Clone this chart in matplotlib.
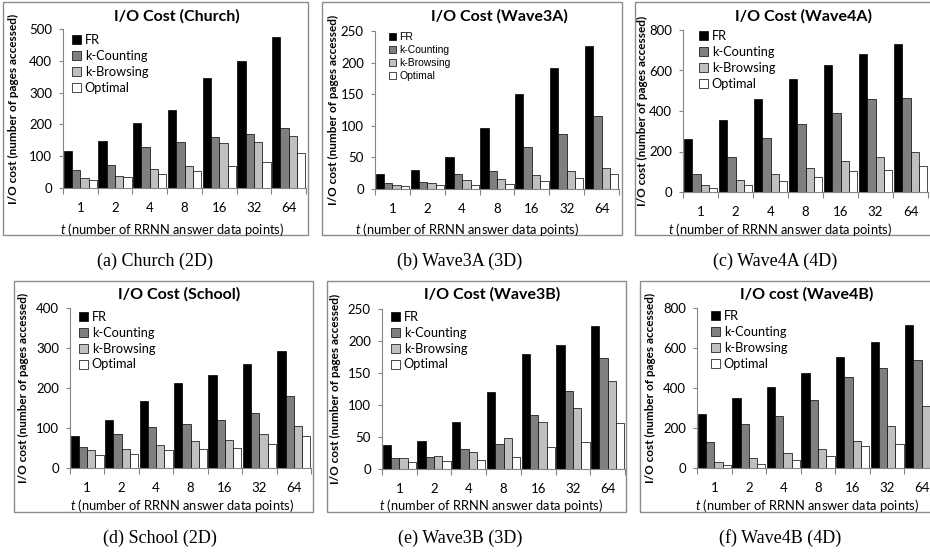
import numpy as np
import matplotlib
matplotlib.use('Agg')
import matplotlib.pyplot as plt
from matplotlib.patches import Rectangle

plt.rcParams['font.family'] = ['Lato', 'DejaVu Sans']
plt.rcParams['mathtext.fontset'] = 'custom'
plt.rcParams['mathtext.it'] = 'Lato:italic'
plt.rcParams['mathtext.rm'] = 'Lato'

W, H = 930, 555

t_labels = ['1', '2', '4', '8', '16', '32', '64']
series = ['FR', 'k-Counting', 'k-Browsing', 'Optimal']
colors = ['#000000', '#7f7f7f', '#c0c0c0', '#ffffff']

# values (pages accessed)
church_fr = [117, 147, 204, 246, 346, 398, 474]
church_kc = [58, 71, 129, 144, 160, 170, 189]
church_kb = [31, 37, 60, 68, 142, 144, 162]
church_opt = [24, 34, 44, 52, 68, 82, 110]

wave3a_fr = [24, 30, 50, 96, 150, 192, 226]
wave3a_kc = [9, 11, 24, 28, 66, 87, 116]
wave3a_kb = [7, 10, 14, 16, 22, 28, 34]
wave3a_opt = [4, 6, 6, 8, 12, 17, 24]

wave4a_fr = [264, 355, 457, 556, 627, 681, 731]
wave4a_kc = [91, 173, 269, 338, 391, 457, 462]
wave4a_kb = [33, 58, 87, 120, 152, 173, 198]
wave4a_opt = [20, 36, 54, 74, 102, 107, 127]

school_fr = [79, 120, 168, 213, 233, 260, 293]
school_kc = [53, 84, 103, 110, 119, 138, 180]
school_kb = [44, 47, 57, 67, 71, 86, 105]
school_opt = [32, 36, 44, 47, 51, 61, 80]

wave3b_fr = [38, 43, 74, 121, 179, 193, 223]
wave3b_kc = [17, 18, 31, 39, 84, 122, 173]
wave3b_kb = [17, 20, 26, 48, 73, 95, 138]
wave3b_opt = [11, 12, 14, 19, 35, 42, 72]

wave4b_fr = [270, 350, 405, 475, 553, 630, 717]
wave4b_kc = [130, 220, 262, 342, 455, 500, 538]
wave4b_kb = [28, 50, 75, 97, 137, 212, 310]
wave4b_opt = [13, 22, 40, 58, 108, 122, 130]

# layout in pixels: box (l, t, r, b), axes (l, t, r, b), title x, xlabel x, caption x
panels = [
    dict(title='I/O Cost (Church)', caption='(a) Church (2D)',
         data=[church_fr, church_kc, church_kb, church_opt], ymax=500, step=100,
         box=(3, 2, 308, 235), ax=(63, 29, 306, 188), tx=177, lx=172, cx=155,
         yl=13, leg=(72, 34), legfs=9.2, legfam=None, row=0),
    dict(title='I/O Cost (Wave3A)', caption='(b) Wave3A (3D)',
         data=[wave3a_fr, wave3a_kc, wave3a_kb, wave3a_opt], ymax=250, step=50,
         box=(322, 2, 622, 235), ax=(375, 31, 619, 189), tx=499, lx=467, cx=460,
         yl=333, leg=(389, 32), legfs=7.5, legfam='Liberation Sans', row=0),
    dict(title='I/O Cost (Wave4A)', caption='(c) Wave4A (4D)',
         data=[wave4a_fr, wave4a_kc, wave4a_kb, wave4a_opt], ymax=800, step=200,
         box=(635, 2, 940, 235), ax=(683, 30, 928, 192), tx=803, lx=780, cx=775,
         yl=642, leg=(699, 30), legfs=9.2, legfam=None, row=0),
    dict(title='I/O Cost (School)', caption='(d) School (2D)',
         data=[school_fr, school_kc, school_kb, school_opt], ymax=400, step=100,
         box=(14, 281, 313, 512), ax=(70, 308, 311, 468), tx=179, lx=182, cx=160,
         yl=23, leg=(79, 311), legfs=9.2, legfam=None, row=1),
    dict(title='I/O Cost (Wave3B)', caption='(e) Wave3B (3D)',
         data=[wave3b_fr, wave3b_kc, wave3b_kb, wave3b_opt], ymax=250, step=50,
         box=(327, 281, 626, 512), ax=(382, 309, 625, 469), tx=492, lx=491, cx=460,
         yl=335, leg=(391, 311), legfs=9.2, legfam=None, row=1),
    dict(title='I/O cost (Wave4B)', caption='(f) Wave4B (4D)',
         data=[wave4b_fr, wave4b_kc, wave4b_kb, wave4b_opt], ymax=800, step=200,
         box=(640, 281, 940, 512), ax=(697, 308, 939, 468), tx=807, lx=807, cx=780,
         yl=650, leg=(711, 310), legfs=9.2, legfam=None, row=1),
]

fig = plt.figure(figsize=(W / 100, H / 100), dpi=100)

bw = 0.24
x = np.arange(len(t_labels))
for p in panels:
    bl, bt, br, bb = p['box']
    fig.add_artist(Rectangle((bl / W, 1 - bb / H), (br - bl) / W, (bb - bt) / H,
                             transform=fig.transFigure, fill=False,
                             edgecolor='#8c8c8c', linewidth=1.0))
    al, at, ar, ab = p['ax']
    ax = fig.add_axes([al / W, 1 - ab / H, (ar - al) / W, (ab - at) / H])
    handles = []
    for i, vals in enumerate(p['data']):
        h = ax.bar(x + (i - 1.5) * bw, vals, bw, color=colors[i],
                   edgecolor='black', linewidth=0.5)
        handles.append(h)
    ax.set_xlim(-0.5, 6.5)
    ax.set_ylim(0, p['ymax'])
    ax.set_yticks(np.arange(0, p['ymax'] + 1, p['step']))
    ax.set_xticks(x, t_labels)
    ax.set_xticks(np.arange(-0.5, 7, 1), minor=True)
    ax.tick_params(axis='x', which='major', length=0, pad=10, labelsize=9.5)
    ax.tick_params(axis='x', which='minor', length=4, color='#868686', width=0.8)
    ax.tick_params(axis='y', length=3, color='#868686', width=0.8, pad=5, labelsize=9.5)
    for s in ['top', 'right']:
        ax.spines[s].set_visible(False)
    for s in ['left', 'bottom']:
        ax.spines[s].set_color('#868686')
        ax.spines[s].set_linewidth(0.8)
    ax.patch.set_visible(False)

    lx0, ly0 = p['leg']
    prop = {'size': p['legfs']}
    if p['legfam']:
        prop['family'] = p['legfam']
    ax.legend(handles, series, loc='upper left', bbox_to_anchor=(lx0 / W, 1 - ly0 / H),
              bbox_transform=fig.transFigure, frameon=False, borderpad=0,
              borderaxespad=0, handlelength=0.7, handleheight=0.7,
              handletextpad=0.3, labelspacing=0.3, prop=prop)

    top = 16 if p['row'] == 0 else 294
    xl_y = 229 if p['row'] == 0 else 506
    cap_y = 261 if p['row'] == 0 else 538
    fig.text(p['tx'] / W, 1 - top / H, p['title'], ha='center', va='center',
             fontsize=11.5, fontweight='bold')
    fig.text(p['yl'] / W, 1 - (at + ab) / 2 / H, 'I/O cost (number of pages accessed)',
             rotation=90, ha='center', va='center', fontsize=8.5, fontweight='bold')
    fig.text(p['lx'] / W, 1 - xl_y / H, '$t$ (number of RRNN answer data points)',
             ha='center', va='center', fontsize=9.3)
    fig.text(p['cx'] / W, 1 - cap_y / H, p['caption'], ha='center', va='center',
             fontsize=13, family='Liberation Serif')

fig.savefig('out.png', dpi=100)
